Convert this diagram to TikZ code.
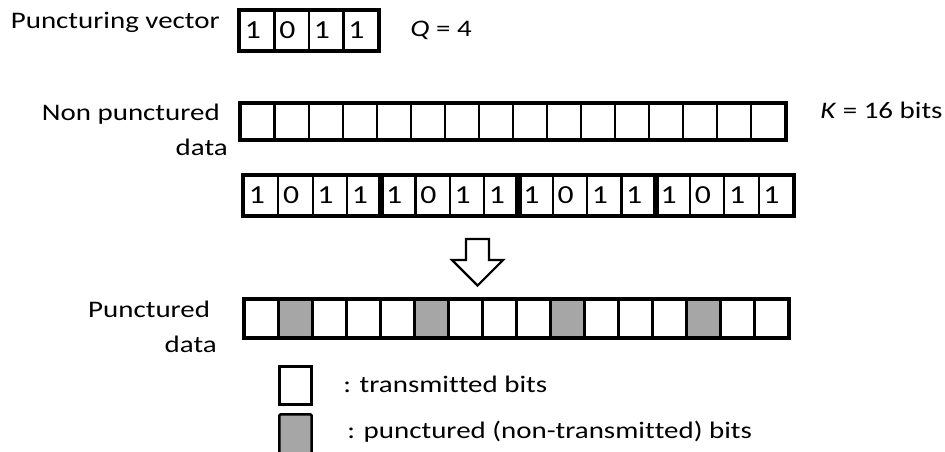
\documentclass[tikz,border=0pt]{standalone}
\usepackage{fontspec}
\setmainfont{Carlito}[FakeStretch=1.22, Ligatures=NoCommon]
\usepackage{xcolor}
\usetikzlibrary{positioning}

\definecolor{puncgray}{HTML}{A6A6A6}

\begin{document}
\begin{tikzpicture}[x=0.75pt, y=-0.75pt,
    cell/.style={draw, line width=1.6pt, inner sep=0pt, minimum width=25.7pt},
    bit/.style={cell, font=\fontsize{19.5}{23}\selectfont, text width=18.5pt, align=left, inner xsep=3.6pt},
    grp/.style={draw, line width=3pt},
    rowbox/.style={draw, line width=2.2pt},
    txt/.style={font=\fontsize{17.8}{26}\selectfont, inner sep=0pt}]
    \useasboundingbox (0,0) rectangle (945,451);

    % puncturing vector
    \foreach \b [count=\i] in {1,0,1,1}
        \node[bit, minimum width=25.9pt, minimum height=29.25pt] (pv\i) at ({240+34.5*(\i-0.5)},30.5) {\b};
    \draw[grp] (pv1.north west) rectangle (pv4.south east);
    \node[txt, anchor=base east] (pvlabel) at (220,28) {Puncturing vector};
    \node[txt, anchor=base west] (qlabel) at (410,36) {\textit{Q} = 4};

    % non punctured data
    \foreach \i in {1,...,16}
        \node[cell, minimum width=25.55pt, minimum height=27pt] (np\i) at ({240.5+34.06*(\i-0.5)},121.5) {};
    \draw[rowbox] (np1.north west) rectangle (np16.south east);
    \node[txt, anchor=base east, align=right] (nplabel) at (228,155) {Non punctured\rule{6pt}{0pt}\\data};
    \node[txt, anchor=base west] (klabel) at (820,118) {\textit{K} = 16 bits};

    % repeated vector
    \foreach \b [count=\i] in {1,0,1,1,1,0,1,1,1,0,1,1,1,0,1,1}
        \node[bit, minimum height=29.25pt] (nb\i) at ({244+34.31*(\i-0.5)},195.5) {\b};
    \foreach \g in {1,5,9,13} {
        \pgfmathtruncatemacro\e{\g+3}
        \draw[grp] (nb\g.north west) rectangle (nb\e.south east);
    }

    % block arrow
    \draw[line width=1.6pt, fill=white, line join=miter]
        (466,239) -- (489,239) -- (489,260) -- (503,260) -- (477.5,285.5) -- (452,260) -- (466,260) -- cycle;

    % punctured data
    \foreach \i in {1,...,16} {
        \pgfmathtruncatemacro\r{mod(\i,4)}
        \ifnum\r=2 \def\shade{puncgray}\else\def\shade{white}\fi
        \node[cell, fill=\shade, minimum width=25.5pt, minimum height=28.5pt] (pd\i) at ({244.5+34*(\i-0.5)},318.5) {};
    }
    \draw[rowbox] (pd1.north west) rectangle (pd16.south east);
    \node[txt, anchor=base east, align=right] (pdlabel) at (217,352) {Punctured\rule{5pt}{0pt}\\data};

    % legend
    \node[cell, minimum width=24.3pt, minimum height=28.8pt, line width=1.9pt] (legtx) at (295.5,385.5) {};
    \node[cell, fill=puncgray, rounded corners=1pt, minimum width=24.3pt, minimum height=33pt, line width=1.9pt] (legpc) at (295.5,436.3) {};
    \node[txt, anchor=base west] (legtxlabel) at (343,392) {: transmit\kern0pt ted bits};
    \node[txt, anchor=base west] (legpclabel) at (347,438) {: punctured (non-transmit\kern0pt ted) bits};
\end{tikzpicture}
\end{document}
